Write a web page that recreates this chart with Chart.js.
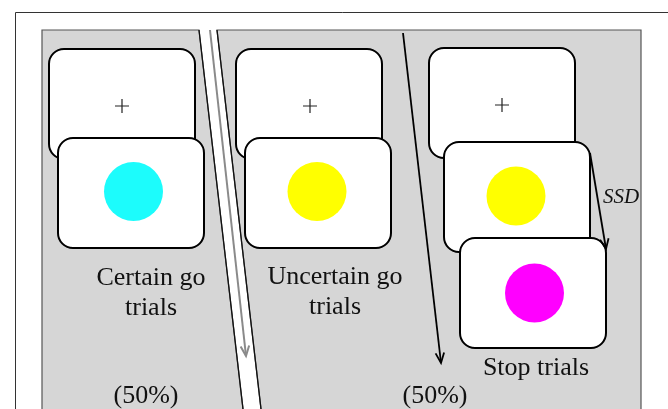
<!DOCTYPE html>
<html>
<head>
<meta charset="utf-8">
<script src="https://cdn.jsdelivr.net/npm/chart.js@4"></script>
<style>
  html, body { margin: 0; padding: 0; background: #fff; }
  #wrap { width: 668px; height: 409px; }
</style>
</head>
<body>
<div id="wrap"><canvas id="trialChart" width="668" height="409"></canvas></div>
<script>
// screen layout, in picture units (x right, y down)
const boxX = [49, 58, 236, 245, 429, 444, 460];
const boxY = [49, 138, 49, 138, 48, 142, 238];
const fixX = [122, 310, 502];
const fixY = [106, 106, 105];
const stimX = [133.5, 317, 516, 534.5];
const stimY = [191.5, 191.5, 196, 293];
const stimNames = ['go (certain)', 'go (uncertain)', 'go (stop trial)', 'stop signal'];
const arrowFrom = [[210, 30], [403, 33], [590, 153]];
const arrowTo = [[246, 356], [441, 363], [606, 249]];
const labelLines = ['Certain go', 'trials', 'Uncertain go', 'trials', 'Stop trials', '(50%)', '(50%)', 'SSD'];
const labelX = [151, 151, 335, 335, 536, 146, 435, 621];
const labelY = [285, 315, 284, 314, 375, 403, 403, 203];

const stimColors = ['#1cfcfc', '#ffff00', '#ffff00', '#ff00ff'];
const arrowColors = ['#8a8a8a', '#000', '#000'];
const BOX_W = 146, BOX_H = 110, BOX_R = 15;

const px = (chart, x) => chart.scales.x.getPixelForValue(x);
const py = (chart, y) => chart.scales.y.getPixelForValue(y);

function roundRect(ctx, x, y, w, h, r) {
    ctx.beginPath();
    ctx.moveTo(x + r, y);
    ctx.arcTo(x + w, y, x + w, y + h, r);
    ctx.arcTo(x + w, y + h, x, y + h, r);
    ctx.arcTo(x, y + h, x, y, r);
    ctx.arcTo(x, y, x + w, y, r);
    ctx.closePath();
}

const diagramPlugin = {
    id: 'diagram',
    beforeDatasetsDraw(chart) {
        const ctx = chart.ctx;
        ctx.save();
        // outer frame
        ctx.strokeStyle = '#333';
        ctx.lineWidth = 1;
        ctx.beginPath();
        ctx.moveTo(px(chart, 15.5), py(chart, 420));
        ctx.lineTo(px(chart, 15.5), py(chart, 12.5));
        ctx.lineTo(px(chart, 680), py(chart, 12.5));
        ctx.stroke();

        // grey panels split by the slanted white strip
        const slope = 44 / 379;
        const panels = [
            [[42, 30], [199, 30], [199 + slope * 390, 420], [42, 420]],
            [[217, 30], [641, 30], [641, 420], [217 + slope * 390, 420]]
        ];
        panels.forEach(p => {
            ctx.beginPath();
            p.forEach((pt, i) => {
                const X = px(chart, pt[0]), Y = py(chart, pt[1]);
                i === 0 ? ctx.moveTo(X, Y) : ctx.lineTo(X, Y);
            });
            ctx.closePath();
            ctx.fillStyle = '#d6d6d6';
            ctx.fill();
            ctx.strokeStyle = '#555';
            ctx.lineWidth = 1.2;
            ctx.stroke();
        });
        // slanted strip edges in black
        ctx.strokeStyle = '#111';
        ctx.lineWidth = 1.3;
        [199, 217].forEach(x0 => {
            ctx.beginPath();
            ctx.moveTo(px(chart, x0), py(chart, 30));
            ctx.lineTo(px(chart, x0 + slope * 390), py(chart, 420));
            ctx.stroke();
        });

        // screens
        boxX.forEach((x, i) => {
            const X = px(chart, x), Y = py(chart, boxY[i]);
            roundRect(ctx, X, Y, px(chart, x + BOX_W) - X, py(chart, boxY[i] + BOX_H) - Y, BOX_R);
            ctx.fillStyle = '#fff';
            ctx.fill();
            ctx.strokeStyle = '#000';
            ctx.lineWidth = 2;
            ctx.stroke();
        });

        // fixation crosses
        ctx.strokeStyle = '#222';
        ctx.lineWidth = 1.2;
        fixX.forEach((x, i) => {
            const X = px(chart, x), Y = py(chart, fixY[i]);
            ctx.beginPath();
            ctx.moveTo(X - 7, Y); ctx.lineTo(X + 7, Y);
            ctx.moveTo(X, Y - 7); ctx.lineTo(X, Y + 7);
            ctx.stroke();
        });
        ctx.restore();
    },
    afterDatasetsDraw(chart) {
        const ctx = chart.ctx;
        ctx.save();
        // arrow heads
        arrowTo.forEach((to, i) => {
            const from = arrowFrom[i];
            const X = px(chart, to[0]), Y = py(chart, to[1]);
            const a = Math.atan2(Y - py(chart, from[1]), X - px(chart, from[0]));
            ctx.strokeStyle = arrowColors[i];
            ctx.lineWidth = i === 0 ? 2 : 1.8;
            ctx.beginPath();
            ctx.moveTo(X - 11 * Math.cos(a - 0.4), Y - 11 * Math.sin(a - 0.4));
            ctx.lineTo(X, Y);
            ctx.lineTo(X - 11 * Math.cos(a + 0.4), Y - 11 * Math.sin(a + 0.4));
            ctx.stroke();
        });
        // labels
        ctx.fillStyle = '#111';
        ctx.textAlign = 'center';
        ctx.textBaseline = 'alphabetic';
        labelLines.forEach((t, i) => {
            ctx.font = t === 'SSD' ? 'italic 21px "Liberation Serif"' : '26px "Liberation Serif"';
            ctx.fillText(t, px(chart, labelX[i]), py(chart, labelY[i]));
        });
        ctx.restore();
    }
};

const datasets = [{
    type: 'scatter',
    label: 'stimuli',
    data: stimX.map((x, i) => ({ x: x, y: stimY[i], name: stimNames[i] })),
    pointRadius: 29.5,
    pointHoverRadius: 29.5,
    pointBackgroundColor: stimColors,
    pointBorderWidth: 0,
    order: 1
}];
arrowFrom.forEach((from, i) => {
    datasets.push({
        type: 'line',
        label: 'arrow ' + i,
        data: [{ x: from[0], y: from[1] }, { x: arrowTo[i][0], y: arrowTo[i][1] }],
        borderColor: arrowColors[i],
        borderWidth: i === 0 ? 2 : 1.8,
        pointRadius: 0,
        showLine: true,
        fill: false,
        order: 2
    });
});

new Chart(document.getElementById('trialChart'), {
    type: 'scatter',
    data: { datasets: datasets },
    options: {
        responsive: false,
        animation: false,
        devicePixelRatio: 1,
        layout: { padding: 0, autoPadding: false },
        plugins: { legend: { display: false }, tooltip: { enabled: false } },
        scales: {
            x: { type: 'linear', min: 0, max: 668, display: false },
            y: { type: 'linear', min: 0, max: 409, reverse: true, display: false }
        }
    },
    plugins: [diagramPlugin]
});
</script>
</body>
</html>
